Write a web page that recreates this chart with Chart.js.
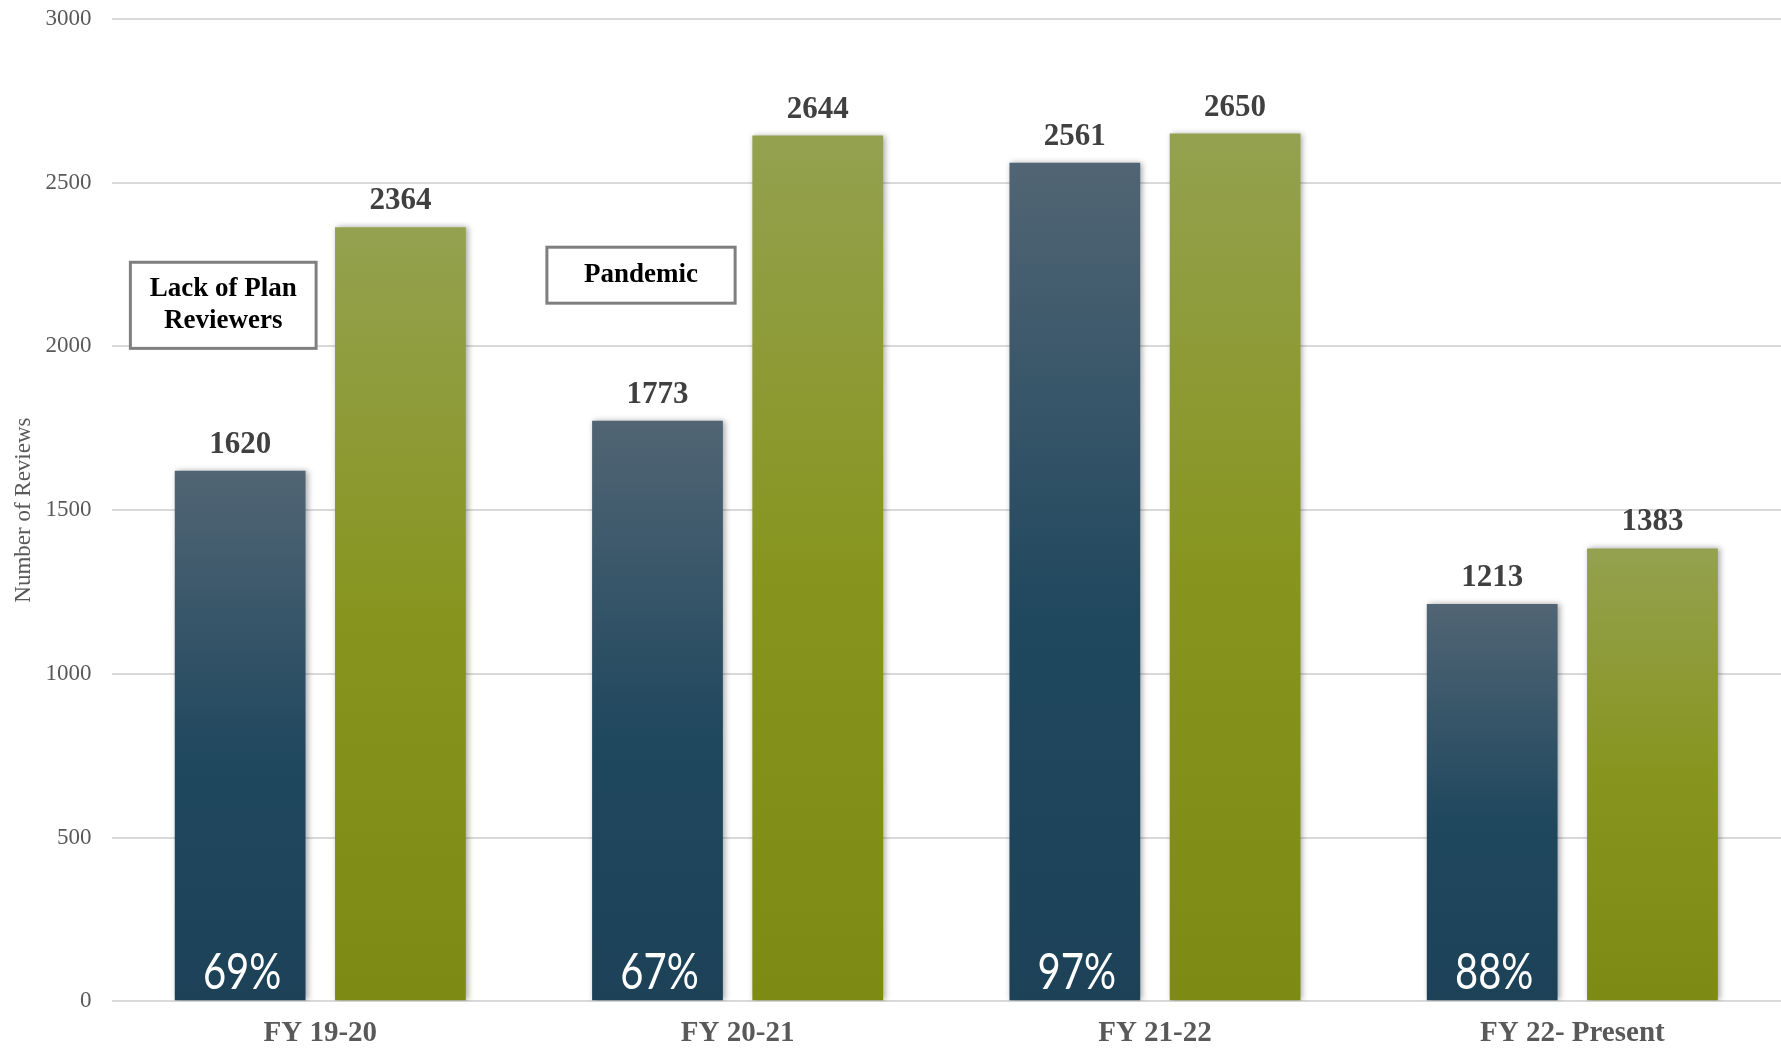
<!DOCTYPE html>
<html>
<head>
<meta charset="utf-8">
<script src="https://cdn.jsdelivr.net/npm/chart.js@4.4.1/dist/chart.umd.min.js"></script>
<style>
  html, body { margin: 0; padding: 0; background: #fff; }
  canvas { display: block; }
</style>
</head>
<body>
<canvas id="chart" width="1781" height="1049"></canvas>
<script>
var years = ['FY 19-20', 'FY 20-21', 'FY 21-22', 'FY 22- Present'];
var onTime = [1620, 1773, 2561, 1213];
var total = [2364, 2644, 2650, 1383];
var yTicks = [0, 500, 1000, 1500, 2000, 2500, 3000];

// callout boxes, x in category units, y in review counts
var notes = [
    { lines: ['Lack of Plan', 'Reviewers'], x0: -0.455, x1: -0.01, y0: 1994, y1: 2257 },
    { lines: ['Pandemic'], x0: -0.457, x1: -0.006, y0: 2132, y1: 2303 }
];

var SERIF = '"Liberation Serif", "Times New Roman", serif';

function barFill(stops) {
    return function (c) {
        var chart = c.chart;
        if (!chart.chartArea || c.type !== 'data') return stops[stops.length - 1][1];
        var y = chart.scales.y;
        var top = y.getPixelForValue(c.raw);
        var base = y.getPixelForValue(0);
        var g = chart.ctx.createLinearGradient(0, top, 0, base);
        stops.forEach(function (s) { g.addColorStop(s[0], s[1]); });
        return g;
    };
}

var shadow = {
    id: 'shadow',
    beforeDatasetDraw: function (chart) {
        var ctx = chart.ctx;
        ctx.save();
        ctx.shadowColor = 'rgba(0,0,0,0.35)';
        ctx.shadowBlur = 6;
        ctx.shadowOffsetX = 2;
        ctx.shadowOffsetY = 0;
    },
    afterDatasetDraw: function (chart) {
        chart.ctx.restore();
    }
};

var labels = {
    id: 'labels',
    afterDatasetsDraw: function (chart) {
        var ctx = chart.ctx;
        var base = chart.scales.y.getPixelForValue(0);
        ctx.save();
        ctx.textAlign = 'center';
        ctx.textBaseline = 'alphabetic';
        chart.data.datasets.forEach(function (ds, i) {
            chart.getDatasetMeta(i).data.forEach(function (bar, j) {
                ctx.fillStyle = '#404040';
                ctx.font = 'bold 31px ' + SERIF;
                ctx.fillText(ds.data[j], bar.x, bar.y - 18);
                if (i === 0) {
                    // share of reviews done on time, printed narrow at the foot of the bar
                    var pct = Math.round(onTime[j] / total[j] * 100) + '%';
                    ctx.save();
                    ctx.translate(bar.x + 2, base - 12);
                    ctx.scale(0.8, 1);
                    ctx.fillStyle = '#ffffff';
                    ctx.font = '50px Lato, "Open Sans", sans-serif';
                    ctx.fillText(pct, 0, 0);
                    ctx.restore();
                }
            });
        });
        ctx.restore();
    }
};

var callouts = {
    id: 'callouts',
    afterDatasetsDraw: function (chart) {
        var ctx = chart.ctx, xs = chart.scales.x, ys = chart.scales.y;
        ctx.save();
        notes.forEach(function (n, k) {
            var cat = k; // each box sits at the left of its year
            var l = xs.getPixelForValue(cat + n.x0), r = xs.getPixelForValue(cat + n.x1);
            var t = ys.getPixelForValue(n.y1), b = ys.getPixelForValue(n.y0);
            ctx.fillStyle = '#ffffff';
            ctx.fillRect(l, t, r - l, b - t);
            ctx.strokeStyle = '#7f7f7f';
            ctx.lineWidth = 3;
            ctx.strokeRect(l, t, r - l, b - t);
            ctx.fillStyle = '#000000';
            ctx.font = 'bold 27px ' + SERIF;
            ctx.textAlign = 'center';
            ctx.textBaseline = 'middle';
            var lh = 32, cy = (t + b) / 2 - (n.lines.length - 1) * lh / 2;
            n.lines.forEach(function (s, m) {
                ctx.fillText(s, (l + r) / 2, cy + m * lh);
            });
        });
        ctx.restore();
    }
};

var ctx = document.getElementById('chart').getContext('2d');
var myChart = new Chart(ctx, {
    type: 'bar',
    data: {
        labels: years,
        datasets: [{
            label: 'Reviews On Time',
            data: onTime,
            backgroundColor: barFill([[0, '#516574'], [0.55, '#1f475e'], [1, '#1d4258']]),
            borderWidth: 0
        },
        {
            label: 'Total Reviews',
            data: total,
            backgroundColor: barFill([[0, '#94a14f'], [0.5, '#87951f'], [1, '#7d8a13']]),
            borderWidth: 0
        }]
    },
    options: {
        responsive: false,
        animation: false,
        categoryPercentage: 0.768,
        barPercentage: 0.816,
        layout: { padding: { top: 19, left: 0, right: 0, bottom: -17 } },
        plugins: {
            legend: { display: false },
            tooltip: { enabled: false }
        },
        scales: {
            x: {
                grid: { display: false, drawTicks: false },
                border: { display: false },
                ticks: {
                    color: '#595959',
                    padding: 15,
                    font: { family: SERIF, size: 29, weight: 'bold' }
                }
            },
            y: {
                min: 0,
                max: 3000,
                afterBuildTicks: function (axis) {
                    axis.ticks = yTicks.map(function (v) { return { value: v }; });
                },
                grid: {
                    color: '#d9d9d9',
                    lineWidth: 2,
                    drawTicks: true,
                    tickLength: 20,
                    tickColor: 'rgba(0,0,0,0)'
                },
                border: { display: false },
                ticks: {
                    color: '#595959',
                    padding: 0,
                    font: { family: SERIF, size: 23 },
                    callback: function (v) { return String(v); }
                },
                title: {
                    display: true,
                    text: 'Number of Reviews',
                    color: '#595959',
                    padding: { top: 10, bottom: 8 },
                    font: { family: SERIF, size: 23 }
                }
            }
        }
    },
    plugins: [shadow, labels, callouts]
});
</script>
</body>
</html>
